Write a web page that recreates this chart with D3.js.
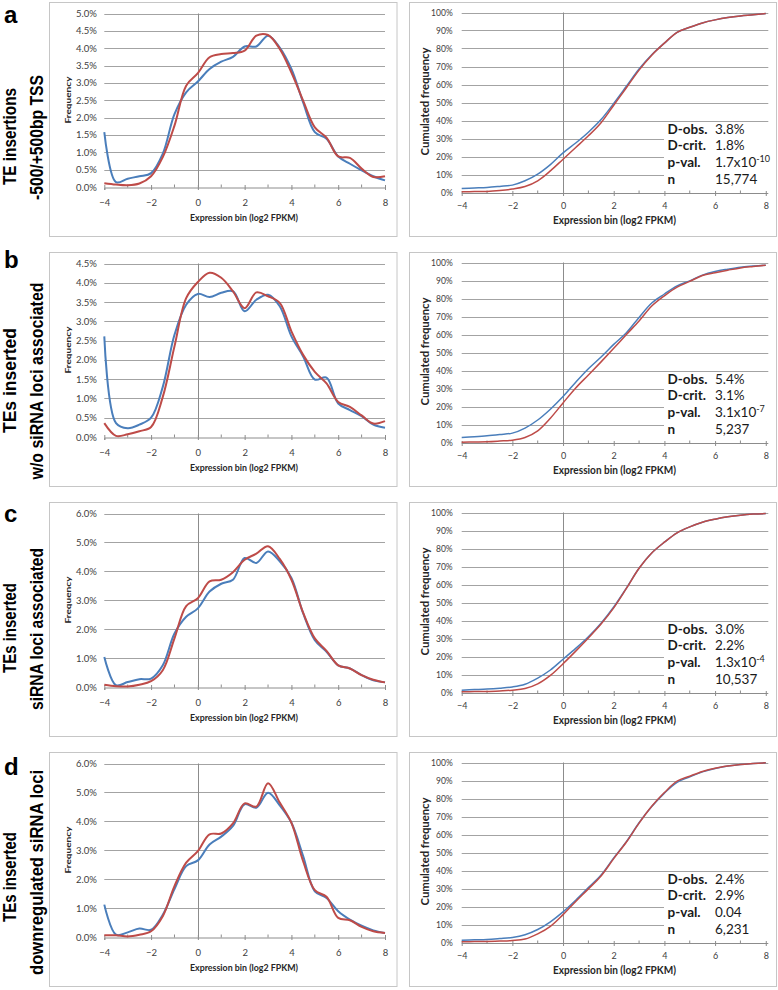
<!DOCTYPE html>
<html><head><meta charset="utf-8">
<script src="https://cdn.jsdelivr.net/npm/d3@7"></script>
<style>body{margin:0;background:#fff} svg{display:block}</style>
</head><body>
<svg id="chart" width="778" height="990"></svg>
<script>
// ---------- data ----------
const bins = [-4,-3.5,-3,-2.5,-2,-1.5,-1,-0.5,0,0.5,1,1.5,2,2.5,3,3.5,4,4.5,5,5.5,6,6.5,7,7.5,8];
const panelLetters = ["a","b","c","d"];
const rowLabels = [
  ["TE insertions","-500/+500bp TSS"],
  ["TEs inserted","w/o siRNA loci associated"],
  ["TEs inserted","siRNA loci associated"],
  ["TEs inserted","downregulated siRNA loci"]
];
const freqMax = [5, 4.5, 6, 6];
const freqStep = [0.5, 0.5, 1, 1];
const xTicks = [-4,-2,0,2,4,6,8];
const xMinor = [-3,-1,1,3,5,7];
const cumTicks = [0,10,20,30,40,50,60,70,80,90,100];

const freqBlueA = [1.58,0.14,0.24,0.31,0.40,0.96,2.10,2.73,3.04,3.40,3.61,3.75,4.05,4.05,4.36,4.02,3.40,2.44,1.58,1.39,0.88,0.67,0.48,0.31,0.19];
const freqRedA  = [0.11,0.07,0.05,0.10,0.31,0.86,1.77,2.92,3.28,3.74,3.83,3.86,3.93,4.36,4.38,3.98,3.30,2.49,1.72,1.42,0.88,0.84,0.53,0.29,0.31];
const freqBlueB = [2.61,0.36,0.23,0.32,0.50,1.30,2.65,3.43,3.71,3.63,3.74,3.78,3.26,3.56,3.69,3.39,2.61,2.09,1.49,1.54,0.87,0.70,0.54,0.32,0.24];
const freqRedB  = [0.36,0.03,0.07,0.15,0.26,1.04,2.35,3.60,4.02,4.26,4.13,3.78,3.34,3.75,3.65,3.48,2.74,2.13,1.69,1.39,0.91,0.78,0.56,0.35,0.41];
const freqBlueC = [1.04,0.06,0.17,0.27,0.29,0.75,1.85,2.43,2.72,3.30,3.57,3.71,4.46,4.29,4.69,4.35,3.77,2.55,1.62,1.22,0.75,0.64,0.41,0.23,0.16];
const freqRedC  = [0.08,0.03,0.02,0.08,0.20,0.58,1.68,2.80,3.07,3.65,3.71,3.97,4.40,4.61,4.87,4.43,3.71,2.57,1.68,1.25,0.75,0.64,0.41,0.25,0.16];
const freqBlueD = [1.12,0.08,0.16,0.29,0.25,0.77,1.66,2.45,2.65,3.20,3.47,3.84,4.59,4.47,4.99,4.55,3.95,2.80,1.58,1.35,0.89,0.60,0.39,0.23,0.14];
const freqRedD  = [0.06,0.06,0.02,0.08,0.20,0.72,1.76,2.57,2.97,3.55,3.58,3.93,4.62,4.51,5.32,4.65,3.95,2.62,1.62,1.39,0.66,0.58,0.35,0.20,0.14];

const cumBlueA = [2.2,2.5,2.8,3.4,4.1,6.5,10.2,15.5,22.0,27.5,33.5,40.5,49.5,59.0,68.6,76.5,83.0,89.0,91.8,94.2,95.9,97.2,98.1,98.7,99.4];
const cumRedA  = [0.4,0.5,0.6,1.1,1.9,3.3,6.5,12.0,18.5,25.0,31.5,38.8,48.5,58.2,68.0,76.3,83.0,89.0,91.8,94.2,95.9,97.2,98.1,98.7,99.4];
const cumBlueB = [2.8,3.2,3.7,4.4,5.2,8.0,12.5,18.5,25.5,33.5,41.0,47.5,54.5,61.0,69.5,77.5,82.5,87.0,89.8,93.0,95.0,96.3,97.4,98.0,98.5];
const cumRedB  = [0.2,0.3,0.4,0.8,1.3,2.8,6.5,13.5,22.0,30.3,37.5,44.8,52.3,60.0,67.5,75.8,81.5,86.3,89.5,92.8,94.3,95.7,97.0,97.8,98.5];
const cumBlueC = [1.3,1.6,1.9,2.4,3.1,4.6,8.0,12.5,18.5,24.5,31.0,38.5,47.5,58.0,69.0,77.5,83.5,88.7,92.0,94.6,96.3,97.6,98.5,99.1,99.4];
const cumRedC  = [0.4,0.5,0.6,0.9,1.3,2.2,4.8,9.5,16.0,23.0,30.3,38.0,47.0,57.8,69.0,77.5,83.5,88.7,92.0,94.6,96.3,97.6,98.5,99.1,99.4];
const cumBlueD = [1.3,1.5,1.7,2.2,2.8,4.3,7.2,11.5,17.0,23.5,30.5,37.5,47.0,56.0,66.5,75.5,83.0,89.0,92.0,94.8,96.7,98.0,98.9,99.4,99.8];
const cumRedD  = [0.4,0.5,0.6,0.8,1.1,1.9,4.8,9.0,15.5,22.8,29.8,37.0,46.6,55.8,66.3,75.7,83.3,89.6,92.4,95.0,96.8,98.0,98.9,99.4,99.8];

const statNames = ["D-obs.","D-crit.","p-val.","n"];
const dObs  = ["3.8%","5.4%","3.0%","2.4%"];
const dCrit = ["1.8%","3.1%","2.2%","2.9%"];
const pMant = ["1.7x10","3.1x10","1.3x10","0.04"];
const pExp  = ["-10","-7","-4",""];
const nVals = ["15,774","5,237","10,537","6,231"];

const freqBlue = [freqBlueA,freqBlueB,freqBlueC,freqBlueD];
const freqRed  = [freqRedA,freqRedB,freqRedC,freqRedD];
const cumBlue  = [cumBlueA,cumBlueB,cumBlueC,cumBlueD];
const cumRed   = [cumRedA,cumRedB,cumRedC,cumRedD];

// ---------- layout ----------
const tops = [3, 253, 503, 753];
const labelLen = [[97,125],[105,197],[90,162],[90,205]];
const labelMid = [[136.5,137.5],[380.5,381],[628,629],[877,872.5]];
const letterBase = [23, 268, 522, 775];
const BLUE = "#4A7EBB", RED = "#BE4B48";
const GRID = "#A3A3A3", AXIS = "#8C8C8C", TXT = "#404040";
const FONT = "Lato, 'Open Sans', sans-serif";

const svg = d3.select("#chart");

tops.forEach((T, i) => {
  const g = svg.append("g");

  // panel letter + row label
  g.append("text").attr("x", 4).attr("y", letterBase[i])
    .attr("font-family","'Liberation Sans', Arial, sans-serif").attr("font-weight","bold")
    .attr("font-size", 24).attr("fill","#000").text(panelLetters[i]);
  [15.5, 43].forEach((bx, k) => {
    g.append("text")
      .attr("transform", `translate(${bx},${labelMid[i][k]}) rotate(-90)`)
      .attr("text-anchor","middle")
      .attr("font-family","'Liberation Sans', Arial, sans-serif").attr("font-weight","bold")
      .attr("font-size", 19).attr("fill","#000")
      .attr("textLength", labelLen[i][k]).attr("lengthAdjust","spacingAndGlyphs")
      .text(rowLabels[i][k]);
  });

  // boxes
  g.append("rect").attr("x",49.5).attr("y",T-0.5).attr("width",347.5).attr("height",234)
    .attr("fill","#fff").attr("stroke","#C6C6C6");
  g.append("rect").attr("x",409.5).attr("y",T-0.5).attr("width",367).attr("height",234)
    .attr("fill","#fff").attr("stroke","#C6C6C6");

  // ===== left: frequency =====
  const xL = d3.scaleLinear().domain([-4,8]).range([104.3,385]);
  const yL = d3.scaleLinear().domain([0,freqMax[i]]).range([T+184, T+10.5]);
  const yTickVals = d3.range(0, freqMax[i] + 1e-9, freqStep[i]);

  // gridlines
  g.append("g").selectAll("line").data(yTickVals.filter(v => v > 0)).join("line")
    .attr("x1", xL(-4)).attr("x2", xL(8))
    .attr("y1", d => Math.round(yL(d))+0.5).attr("y2", d => Math.round(yL(d))+0.5)
    .attr("stroke", GRID).attr("stroke-width",1);
  // y tick labels through axis
  const yAxL = g.append("g").attr("transform",`translate(${xL(-4)},0)`)
    .call(d3.axisLeft(yL).tickValues(yTickVals).tickSize(0).tickPadding(7.5)
      .tickFormat(d => d.toFixed(1) + "%"));
  yAxL.select(".domain").remove();
  yAxL.selectAll("text").attr("font-family",FONT).attr("font-size",9.5).attr("fill",TXT);
  // vertical zero axis
  g.append("line").attr("x1", Math.round(xL(0))+0.5).attr("x2", Math.round(xL(0))+0.5)
    .attr("y1", yL(freqMax[i])).attr("y2", yL(0)).attr("stroke", AXIS);
  // x axis
  const xAxL = g.append("g").attr("transform",`translate(0,${Math.round(yL(0))+0.5})`)
    .call(d3.axisBottom(xL).tickValues(xTicks).tickSize(2.5).tickPadding(0).tickFormat(d3.format("d")));
  xAxL.select(".domain").attr("stroke", AXIS);
  xAxL.selectAll(".tick line").attr("stroke", AXIS).attr("y1",-2.5);
  xAxL.selectAll("text").attr("font-family",FONT).attr("font-size",9.5).attr("fill",TXT)
    .attr("y", 15.5).attr("dy","0.35em");
  g.append("g").selectAll("line").data(xMinor).join("line")
    .attr("x1", d => xL(d)).attr("x2", d => xL(d))
    .attr("y1", Math.round(yL(0))+0.5).attr("y2", Math.round(yL(0))-2.5).attr("stroke", AXIS);
  // titles
  g.append("text").attr("x", 244).attr("y", T+215.5).attr("dy","0.35em").attr("text-anchor","middle")
    .attr("font-family",FONT).attr("font-weight","bold").attr("font-size",8.5).attr("fill","#262626")
    .attr("textLength",108).attr("lengthAdjust","spacingAndGlyphs")
    .text("Expression bin (log2 FPKM)");
  g.append("text").attr("transform",`translate(70.5,${T+97}) rotate(-90)`).attr("text-anchor","middle")
    .attr("font-family",FONT).attr("font-weight","bold").attr("font-size",7.5).attr("fill","#262626")
    .attr("textLength",47).attr("lengthAdjust","spacingAndGlyphs")
    .text("Frequency");
  // curves
  const lineL = d3.line().x((d,j) => xL(bins[j])).y(d => yL(d)).curve(d3.curveCatmullRom.alpha(0.5));
  g.append("path").attr("d", lineL(freqBlue[i])).attr("fill","none").attr("stroke",BLUE).attr("stroke-width",2);
  g.append("path").attr("d", lineL(freqRed[i])).attr("fill","none").attr("stroke",RED).attr("stroke-width",2);

  // ===== right: cumulated =====
  const xR = d3.scaleLinear().domain([-4,8.1]).range([461.7,768.3]);
  const yR = d3.scaleLinear().domain([0,100]).range([T+189.5, T+9.5]);
  g.append("g").selectAll("line").data(cumTicks.filter(v => v > 0)).join("line")
    .attr("x1", xR(-4)).attr("x2", xR(8.1))
    .attr("y1", d => Math.round(yR(d))+0.5).attr("y2", d => Math.round(yR(d))+0.5)
    .attr("stroke", GRID);
  const yAxR = g.append("g").attr("transform",`translate(${xR(-4)},0)`)
    .call(d3.axisLeft(yR).tickValues(cumTicks).tickSize(0).tickPadding(9).tickFormat(d => d + "%"));
  yAxR.select(".domain").remove();
  yAxR.selectAll("text").attr("font-family",FONT).attr("font-size",8.5).attr("fill",TXT);
  g.append("line").attr("x1", Math.round(xR(0))+0.5).attr("x2", Math.round(xR(0))+0.5)
    .attr("y1", yR(100)).attr("y2", yR(0)).attr("stroke", AXIS);
  // white box behind statistics
  g.append("rect").attr("x",664).attr("y",T+122).attr("width",105).attr("height",65).attr("fill","#fff");
  const xAxR = g.append("g").attr("transform",`translate(0,${Math.round(yR(0))+0.5})`)
    .call(d3.axisBottom(xR).tickValues(xTicks).tickSize(2.5).tickPadding(0).tickFormat(d3.format("d")));
  xAxR.select(".domain").attr("stroke", AXIS).attr("d", `M${xR(-4)},0H${xR(8.1)}`);
  xAxR.selectAll(".tick line").attr("stroke", AXIS).attr("y1",-2.5);
  xAxR.selectAll("text").attr("font-family",FONT).attr("font-size",9).attr("fill",TXT)
    .attr("y", 12.5).attr("dy","0.35em");
  g.append("g").selectAll("line").data(xMinor).join("line")
    .attr("x1", d => xR(d)).attr("x2", d => xR(d))
    .attr("y1", Math.round(yR(0))+0.5).attr("y2", Math.round(yR(0))-2.5).attr("stroke", AXIS);
  g.append("text").attr("x", 614.5).attr("y", T+217.5).attr("dy","0.35em").attr("text-anchor","middle")
    .attr("font-family",FONT).attr("font-weight","bold").attr("font-size",10.5).attr("fill","#262626")
    .attr("textLength",123).attr("lengthAdjust","spacingAndGlyphs")
    .text("Expression bin (log2 FPKM)");
  g.append("text").attr("transform",`translate(428.5,${T+98.5}) rotate(-90)`).attr("text-anchor","middle")
    .attr("font-family",FONT).attr("font-weight","bold").attr("font-size",10.5).attr("fill","#262626")
    .attr("textLength",108).attr("lengthAdjust","spacingAndGlyphs")
    .text("Cumulated frequency");
  const lineR = d3.line().x((d,j) => xR(bins[j])).y(d => yR(d)).curve(d3.curveCatmullRom.alpha(0.5));
  g.append("path").attr("d", lineR(cumBlue[i])).attr("fill","none").attr("stroke",BLUE).attr("stroke-width",1.5);
  g.append("path").attr("d", lineR(cumRed[i])).attr("fill","none").attr("stroke",RED).attr("stroke-width",1.5);

  // statistics
  const vals = [dObs[i], dCrit[i], null, nVals[i]];
  const base = [130.6, 147.3, 164, 180.7];
  statNames.forEach((nm, k) => {
    g.append("text").attr("x",667.5).attr("y",T+base[k]).attr("font-family",FONT)
      .attr("font-weight","bold").attr("font-size",13.5).attr("fill","#1a1a1a").text(nm);
    const t = g.append("text").attr("x",715).attr("y",T+base[k]).attr("font-family",FONT)
      .attr("font-size",13.5).attr("fill","#1a1a1a");
    if (k === 2) {
      t.append("tspan").text(pMant[i]);
      if (pExp[i]) t.append("tspan").attr("dy",-5).attr("font-size",9).text(pExp[i]);
    } else t.text(vals[k]);
  });
});
</script>
</body></html>
